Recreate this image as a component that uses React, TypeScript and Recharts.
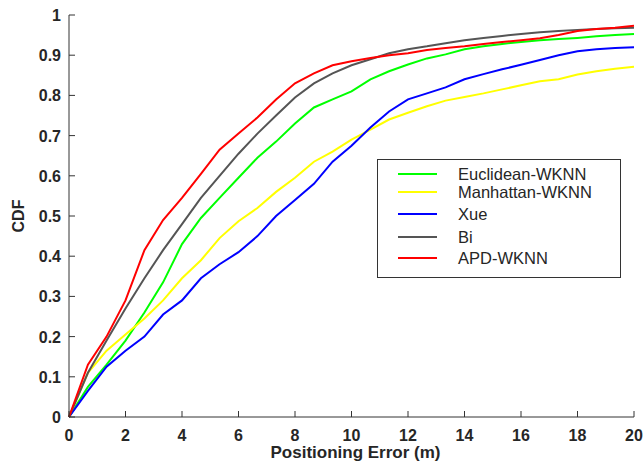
import React from 'react';
import { LineChart, Line, XAxis, YAxis, Legend } from 'recharts';

const xs = [0, 0.67, 1.33, 2, 2.67, 3.33, 4, 4.67, 5.33, 6, 6.67, 7.33, 8, 8.67, 9.33, 10, 10.67, 11.33, 12, 12.67, 13.33, 14, 14.67, 15.33, 16, 16.67, 17.33, 18, 18.67, 19.33, 20];

const euclidean = [0, 0.075, 0.13, 0.19, 0.26, 0.335, 0.43, 0.495, 0.545, 0.595, 0.645, 0.685, 0.73, 0.77, 0.79, 0.81, 0.84, 0.86, 0.877, 0.892, 0.902, 0.915, 0.922, 0.928, 0.933, 0.937, 0.94, 0.943, 0.947, 0.95, 0.953];
const manhattan = [0, 0.11, 0.165, 0.205, 0.245, 0.29, 0.345, 0.39, 0.445, 0.487, 0.52, 0.56, 0.595, 0.635, 0.66, 0.69, 0.715, 0.74, 0.757, 0.773, 0.787, 0.796, 0.805, 0.815, 0.825, 0.835, 0.84, 0.852, 0.86, 0.866, 0.871];
const xue = [0, 0.065, 0.125, 0.165, 0.2, 0.255, 0.29, 0.345, 0.38, 0.41, 0.45, 0.5, 0.54, 0.58, 0.635, 0.675, 0.72, 0.76, 0.79, 0.805, 0.82, 0.84, 0.853, 0.865, 0.876, 0.888, 0.9, 0.91, 0.915, 0.918, 0.92];
const bi = [0, 0.11, 0.19, 0.27, 0.345, 0.415, 0.48, 0.545, 0.6, 0.655, 0.705, 0.75, 0.795, 0.83, 0.855, 0.875, 0.89, 0.905, 0.915, 0.922, 0.93, 0.937, 0.943, 0.948, 0.953, 0.957, 0.96, 0.963, 0.965, 0.967, 0.968];
const apd = [0, 0.13, 0.2, 0.29, 0.415, 0.49, 0.545, 0.605, 0.665, 0.705, 0.745, 0.79, 0.83, 0.855, 0.875, 0.885, 0.893, 0.9, 0.905, 0.913, 0.918, 0.922, 0.928, 0.933, 0.937, 0.942, 0.95, 0.96, 0.965, 0.968, 0.973];

const xTicks = [0, 2, 4, 6, 8, 10, 12, 14, 16, 18, 20];
const yTicks = [0, 0.1, 0.2, 0.3, 0.4, 0.5, 0.6, 0.7, 0.8, 0.9, 1];

const seriesNames = ['Euclidean-WKNN', 'Manhattan-WKNN', 'Xue', 'Bi', 'APD-WKNN'];
const seriesKeys = ['euclidean', 'manhattan', 'xue', 'bi', 'apd'];
const seriesColors = ['#00ff00', '#ffff00', '#0000ff', '#555555', '#ff0000'];
const seriesValues = [euclidean, manhattan, xue, bi, apd];

const data = xs.map((x, i) => {
  const row: Record<string, number> = { x };
  seriesKeys.forEach((k, j) => {
    row[k] = seriesValues[j][i];
  });
  return row;
});

const FONT = '"Liberation Sans", Arial, Helvetica, sans-serif';
const AXIS = '#333333';

const XTick = (props: any) => {
  const { x, y, payload } = props;
  return (
    <g>
      <line x1={x} y1={y} x2={x} y2={y - 6} stroke={AXIS} strokeWidth={1} />
      <text x={x} y={y + 24} textAnchor="middle" fontFamily={FONT} fontWeight="bold" fontSize={16} fill="#262626">
        {payload.value}
      </text>
    </g>
  );
};

const YTick = (props: any) => {
  const { x, y, payload } = props;
  return (
    <g>
      <line x1={x} y1={y} x2={x + 6} y2={y} stroke={AXIS} strokeWidth={1} />
      <text x={x - 8} y={y + 6} textAnchor="end" fontFamily={FONT} fontWeight="bold" fontSize={16} fill="#262626">
        {payload.value}
      </text>
    </g>
  );
};

const rowOffsets = [15, 33, 55, 78, 99];

const LegendBox = () => (
  <svg width={244} height={119} style={{ display: 'block' }}>
    <rect x={0.5} y={0.5} width={243} height={118} fill="#ffffff" stroke={AXIS} strokeWidth={1} />
    {seriesNames.map((n, i) => (
      <g key={n}>
        <line x1={21} x2={60} y1={rowOffsets[i]} y2={rowOffsets[i]} stroke={seriesColors[i]} strokeWidth={2} />
        <text x={81} y={rowOffsets[i] + 6} fontFamily={FONT} fontSize={16.5} fill="#262626">
          {n}
        </text>
      </g>
    ))}
  </svg>
);

export default function App() {
  return (
    <div style={{ position: 'absolute', left: 0, top: 0, width: 643, height: 464, background: '#fff' }}>
      <LineChart width={643} height={464} data={data} margin={{ top: 15, right: 9, bottom: 0, left: 0 }}>
        <XAxis
          dataKey="x"
          type="number"
          domain={[0, 20]}
          ticks={xTicks}
          interval={0}
          height={47}
          tickSize={0}
          tickMargin={0}
          tick={<XTick />}
          axisLine={{ stroke: AXIS, strokeWidth: 1 }}
          label={{
            content: (p: any) => {
              const vb = p.viewBox;
              return (
                <text x={vb.x + vb.width / 2 + 4} y={vb.y + 41} textAnchor="middle" fontFamily={FONT} fontWeight="bold" fontSize={17} fill="#262626">
                  Positioning Error (m)
                </text>
              );
            },
          }}
        />
        <XAxis
          xAxisId="top"
          orientation="top"
          dataKey="x"
          type="number"
          domain={[0, 20]}
          height={0}
          tick={false}
          tickLine={false}
          axisLine={{ stroke: AXIS, strokeWidth: 1 }}
        />
        <YAxis
          type="number"
          domain={[0, 1]}
          ticks={yTicks}
          interval={0}
          width={69}
          tickSize={0}
          tickMargin={0}
          tick={<YTick />}
          axisLine={{ stroke: AXIS, strokeWidth: 1 }}
          label={{
            content: (p: any) => {
              const vb = p.viewBox;
              const cx = 18;
              const cy = vb.y + vb.height / 2;
              return (
                <text x={cx} y={cy} textAnchor="middle" dominantBaseline="central" transform={`rotate(-90 ${cx} ${cy})`} fontFamily={FONT} fontWeight="bold" fontSize={16} fill="#262626">
                  CDF
                </text>
              );
            },
          }}
        />
        <YAxis
          yAxisId="right"
          orientation="right"
          type="number"
          domain={[0, 1]}
          width={0}
          tick={false}
          tickLine={false}
          axisLine={{ stroke: AXIS, strokeWidth: 1 }}
        />
        {seriesKeys.map((k, i) => (
          <Line
            key={k}
            type="linear"
            dataKey={k}
            name={seriesNames[i]}
            stroke={seriesColors[i]}
            strokeWidth={2}
            dot={false}
            activeDot={false}
            isAnimationActive={false}
          />
        ))}
        <Legend
          layout="vertical"
          align="center"
          verticalAlign="middle"
          content={<LegendBox />}
          wrapperStyle={{ left: 377, top: 159, width: 244, height: 119 }}
        />
      </LineChart>
    </div>
  );
}
